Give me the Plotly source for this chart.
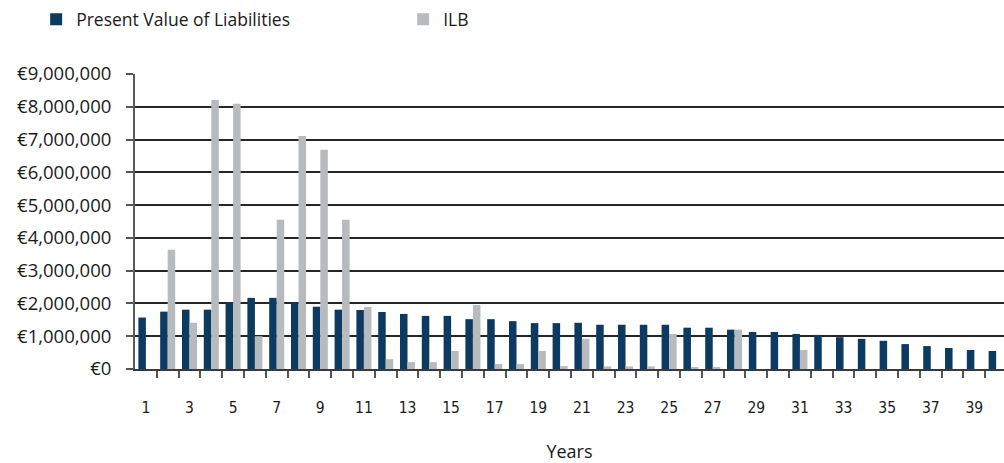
import plotly.graph_objects as go

# Years 1..40
years = list(range(1, 41))

# Present value of liabilities per year (EUR)
pv_liabilities = [
    1570000, 1750000, 1810000, 1810000, 2020000, 2170000, 2170000, 2020000, 1900000, 1810000,
    1800000, 1740000, 1680000, 1620000, 1620000, 1520000, 1520000, 1460000, 1400000, 1400000,
    1410000, 1350000, 1350000, 1350000, 1350000, 1260000, 1260000, 1200000, 1130000, 1130000,
    1070000, 1040000, 970000, 920000, 860000, 760000, 700000, 640000, 580000, 550000,
]

# Inflation-linked bond cash flows per year (EUR)
ilb = [
    0, 3640000, 1410000, 8210000, 8090000, 1000000, 4550000, 7110000, 6690000, 4550000,
    1890000, 300000, 210000, 210000, 550000, 1950000, 150000, 150000, 550000, 90000,
    920000, 80000, 80000, 80000, 1070000, 50000, 50000, 1200000, 0, 0,
    580000, 0, 0, 0, 0, 0, 0, 0, 0, 0,
]

# Labelled years on the x axis
x_tick_years = years[::2]

NAVY = "#0d3a60"
GREY = "#b8bbbe"
FONT = "Open Sans, Lato, sans-serif"

fig = go.Figure()
fig.add_trace(go.Bar(x=years, y=pv_liabilities, name="Present Value of Liabilities",
                     marker=dict(color=NAVY, line=dict(width=0))))
fig.add_trace(go.Bar(x=years, y=ilb, name="ILB",
                     marker=dict(color=GREY, line=dict(width=0))))

fig.update_layout(
    width=1004, height=463,
    margin=dict(l=135, r=0, t=74, b=94),
    paper_bgcolor="white", plot_bgcolor="white",
    barmode="group", bargap=0.31, bargroupgap=0,
    font=dict(family=FONT, color="#1a1a1a"),
    showlegend=True,
    legend=dict(orientation="h", xref="container", yref="container",
                x=0.036, y=0.997, xanchor="left", yanchor="top",
                font=dict(size=17.5, family=FONT), entrywidth=322,
                itemwidth=30, bgcolor="rgba(0,0,0,0)"),
    xaxis=dict(
        range=[0.5, 40.36], automargin=False,
        tickmode="array", tickvals=x_tick_years,
        ticktext=[str(v) for v in x_tick_years],
        ticks="", ticklabelstandoff=23,
        tickfont=dict(size=15.5, family="DejaVu Sans Condensed, Open Sans, sans-serif"),
        minor=dict(tickmode="array", tickvals=[y + 0.5 for y in years[:-1]],
                   ticks="outside", ticklen=7, tickwidth=2, tickcolor="#555555",
                   showgrid=False),
        showgrid=False, zeroline=False,
        showline=True, linecolor="#3a3a3a", linewidth=2,
        title=dict(text="Years", font=dict(size=18, family=FONT), standoff=38),
    ),
    yaxis=dict(
        range=[0, 9000000], dtick=1000000, tick0=0, automargin=False,
        tickprefix="€", tickformat=",d",
        tickfont=dict(size=18.5, family=FONT),
        ticks="outside", ticklen=7, tickwidth=2, tickcolor="#555555",
        ticklabelstandoff=11,
        showgrid=True, gridcolor="#262626", gridwidth=2,
        zeroline=False,
        showline=True, linecolor="#5a5a5a", linewidth=2,
    ),
)

fig.write_html("out.html")
